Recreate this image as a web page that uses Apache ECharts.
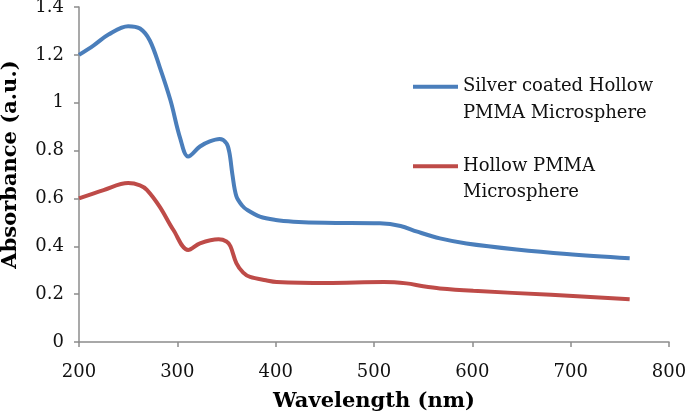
<!DOCTYPE html>
<html><head><meta charset="utf-8">
<script src="https://cdn.jsdelivr.net/npm/echarts@6/dist/echarts.min.js"></script>
<style>html,body{margin:0;padding:0;background:#fff}#c{width:685px;height:417px}</style>
</head><body><div id="c"></div>
<script>
var seriesNames = ['Silver coated Hollow PMMA Microsphere', 'Hollow PMMA Microsphere'];
var legendLines = {'Silver coated Hollow PMMA Microsphere': ['Silver coated Hollow', 'PMMA Microsphere'], 'Hollow PMMA Microsphere': ['Hollow PMMA', 'Microsphere']};
var silverWl = [200,215,230,250,262,272,282,293,303,311,323,333,343,350,353,356,360,366,371,384,400,418,450,506,527,544,567,594,645,696,760];
var silverAbs = [1.20,1.24,1.285,1.32,1.31,1.26,1.15,1.01,0.85,0.775,0.817,0.838,0.848,0.83,0.79,0.70,0.61,0.57,0.552,0.524,0.51,0.503,0.498,0.496,0.485,0.461,0.433,0.412,0.387,0.368,0.35];
var hollowWl = [200,225,250,262,269,282,296,311,323,342,350,354,360,367,374,390,401,452,510,533,550,567,601,680,760];
var hollowAbs = [0.60,0.635,0.664,0.655,0.636,0.566,0.468,0.384,0.412,0.429,0.42,0.40,0.33,0.29,0.272,0.258,0.251,0.247,0.251,0.245,0.233,0.224,0.214,0.197,0.179];
var colors = ['#4a7ebb', '#be4b48'];

function pairs(x, y){ return x.map(function(v,i){ return [v, y[i]]; }); }
var font = 'DejaVu Serif';
var chart = echarts.init(document.getElementById('c'), null, {renderer:'canvas'});
chart.setOption({
  animation:false,
  backgroundColor:'#fff',
  grid:{left:79, right:16, top:7, bottom:75, containLabel:false, outerBoundsMode:'none'},
  legend:{
    orient:'vertical', left:413, top:47, itemGap:0, itemWidth:45, itemHeight:4, padding:0,
    icon:'rect',
    data:seriesNames,
    formatter:function(n){ return ' \n' + legendLines[n].join('\n'); },
    textStyle:{fontFamily:font, fontSize:18, color:'#111', lineHeight:26.5}
  },
  xAxis:{
    type:'value', min:200, max:800, interval:100,
    name:'Wavelength (nm)', nameLocation:'middle', nameGap:49,
    nameTextStyle:{fontFamily:font, fontSize:21, fontWeight:'bold', color:'#000'},
    axisLine:{lineStyle:{color:'#8c8c8c', width:1.5}},
    axisTick:{show:true, length:5, lineStyle:{color:'#8c8c8c', width:1.5}},
    axisLabel:{fontFamily:font, fontSize:18, color:'#111', margin:21},
    splitLine:{show:false}
  },
  yAxis:{
    type:'value', min:0, max:1.4, interval:0.2,
    name:'Absorbance (a.u.)', nameLocation:'middle', nameGap:58,
    nameTextStyle:{fontFamily:font, fontSize:21, fontWeight:'bold', color:'#000', padding:[0,0,0,20]},
    axisLine:{show:true, lineStyle:{color:'#8c8c8c', width:1.5}},
    axisTick:{show:true, length:5, lineStyle:{color:'#8c8c8c', width:1.5}},
    axisLabel:{fontFamily:font, fontSize:18, color:'#111', margin:15},
    splitLine:{show:false}
  },
  series:[
    {name:seriesNames[0], type:'line', data:pairs(silverWl, silverAbs), smooth:0.35, showSymbol:false,
     lineStyle:{color:colors[0], width:4}, itemStyle:{color:colors[0]}},
    {name:seriesNames[1], type:'line', data:pairs(hollowWl, hollowAbs), smooth:0.35, showSymbol:false,
     lineStyle:{color:colors[1], width:4}, itemStyle:{color:colors[1]}}
  ]
});
</script></body></html>
